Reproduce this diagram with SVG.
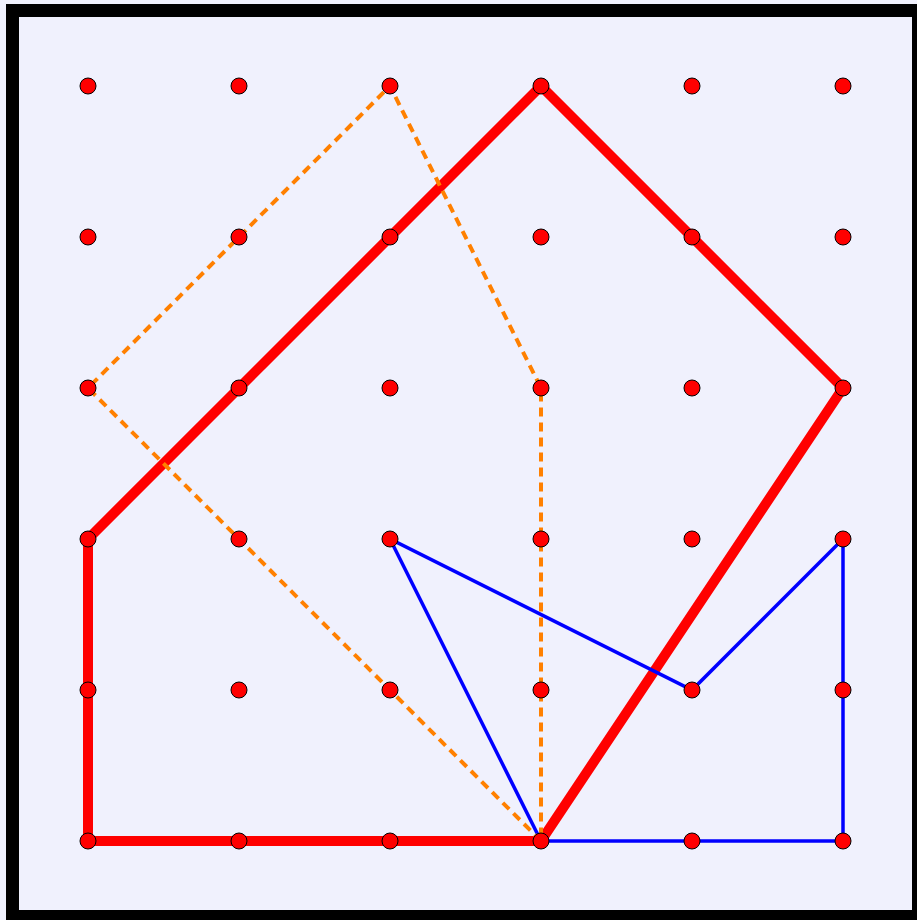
<svg xmlns="http://www.w3.org/2000/svg" width="917" height="920" viewBox="0 0 917 920">
<style>
.dot{fill:#ff0000;stroke:#000;stroke-width:1}
.red{fill:none;stroke:#ff0000;stroke-width:10;stroke-linejoin:miter}
.blue{fill:none;stroke:#0000ff;stroke-width:3.5}
.orange{fill:none;stroke:#ff8000;stroke-width:4;stroke-dasharray:9 6}
</style>
<rect x="0" y="0" width="917" height="920" fill="#f0f1fd"/>
<rect x="12.5" y="10.5" width="906" height="906" fill="#f0f1fd" stroke="#000" stroke-width="13"/>
<g id="connectors">
<path class="red" d="M541,841 L88,841 L88,539 L541,86 L843,388 Z"/>
<path class="blue" d="M390,539 L541,841 L843,841 L843,539 L692,690 Z"/>
<path class="orange" d="M541,841 L88,388 L390,86 L541,388 Z"/>
</g>
<g id="dots">
<g id="r0"><circle class="dot" cx="88" cy="86" r="8"/><circle class="dot" cx="239" cy="86" r="8"/><circle class="dot" cx="390" cy="86" r="8"/><circle class="dot" cx="541" cy="86" r="8"/><circle class="dot" cx="692" cy="86" r="8"/><circle class="dot" cx="843" cy="86" r="8"/></g>
<g id="r1"><circle class="dot" cx="88" cy="237" r="8"/><circle class="dot" cx="239" cy="237" r="8"/><circle class="dot" cx="390" cy="237" r="8"/><circle class="dot" cx="541" cy="237" r="8"/><circle class="dot" cx="692" cy="237" r="8"/><circle class="dot" cx="843" cy="237" r="8"/></g>
<g id="r2"><circle class="dot" cx="88" cy="388" r="8"/><circle class="dot" cx="239" cy="388" r="8"/><circle class="dot" cx="390" cy="388" r="8"/><circle class="dot" cx="541" cy="388" r="8"/><circle class="dot" cx="692" cy="388" r="8"/><circle class="dot" cx="843" cy="388" r="8"/></g>
<g id="r3"><circle class="dot" cx="88" cy="539" r="8"/><circle class="dot" cx="239" cy="539" r="8"/><circle class="dot" cx="390" cy="539" r="8"/><circle class="dot" cx="541" cy="539" r="8"/><circle class="dot" cx="692" cy="539" r="8"/><circle class="dot" cx="843" cy="539" r="8"/></g>
<g id="r4"><circle class="dot" cx="88" cy="690" r="8"/><circle class="dot" cx="239" cy="690" r="8"/><circle class="dot" cx="390" cy="690" r="8"/><circle class="dot" cx="541" cy="690" r="8"/><circle class="dot" cx="692" cy="690" r="8"/><circle class="dot" cx="843" cy="690" r="8"/></g>
<g id="r5"><circle class="dot" cx="88" cy="841" r="8"/><circle class="dot" cx="239" cy="841" r="8"/><circle class="dot" cx="390" cy="841" r="8"/><circle class="dot" cx="541" cy="841" r="8"/><circle class="dot" cx="692" cy="841" r="8"/><circle class="dot" cx="843" cy="841" r="8"/></g>
</g>
</svg>
